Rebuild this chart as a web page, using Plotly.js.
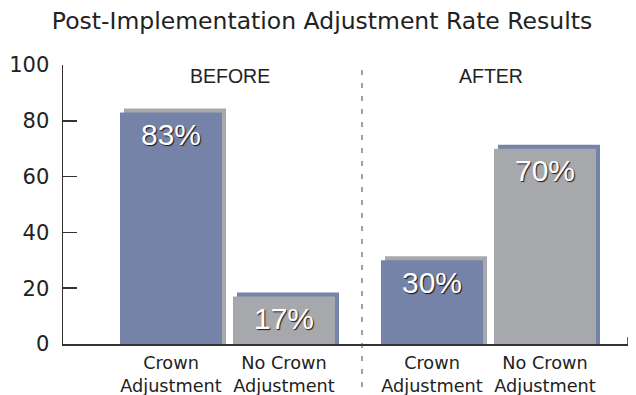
<!DOCTYPE html>
<html>
<head>
<meta charset="utf-8">
<script src="https://cdn.plot.ly/plotly-3.0.1.min.js"></script>
<style>
  html, body { margin: 0; padding: 0; background: #fff; }
  #chart { width: 636px; height: 395px; }
</style>
</head>
<body>
<div id="chart"></div>
<script>
// ---- data ----
const categories = ['Crown<br>Adjustment', 'No Crown<br>Adjustment', 'Crown<br>Adjustment', 'No Crown<br>Adjustment'];
const groupNames = ['BEFORE', 'AFTER'];
const groupOf = [0, 0, 1, 1];
const values = [83, 17, 30, 70];
const yTickVals = [0, 20, 40, 60, 80, 100];

// ---- styling / layout constants ----
const BLUE = '#7683a9';
const GRAY = '#a7a8ac';
const frontColors = [BLUE, GRAY, BLUE, GRAY];
const shadowColors = [GRAY, BLUE, GRAY, BLUE];
const PLOT_H = 279;                 // px height of plot area
const GROUP_START = [108, 369];     // x units (1 unit = 1 px)
const BAR_STEP = 113;
const BAR_W = 102;
const SH_DX = 4;
const SH_DY = 4 * 100 / PLOT_H;     // 4px in y units
const DIVIDER_X = 299;

const xs = categories.map((c, i) => GROUP_START[groupOf[i]] + BAR_STEP * (i % 2));

const shadow = {
  type: 'bar',
  x: xs.map(x => x + SH_DX),
  y: values.map(v => v + SH_DY),
  width: BAR_W,
  marker: { color: shadowColors, line: { width: 0 } },
  hoverinfo: 'skip',
  showlegend: false
};
const front = {
  type: 'bar',
  x: xs,
  y: values,
  width: BAR_W,
  marker: { color: frontColors, line: { width: 0 } },
  hoverinfo: 'skip',
  showlegend: false
};

const annotations = [];
values.forEach((v, i) => {
  annotations.push({
    x: xs[i], y: v, xref: 'x', yref: 'y',
    text: v + '%', showarrow: false,
    yanchor: 'middle', yshift: -22,
    font: { family: 'Liberation Sans, Arial, sans-serif', size: 30, color: '#ffffff',
            shadow: '1px 1px 1px rgba(0,0,0,0.85)' }
  });
});
groupNames.forEach((g, gi) => {
  const idx = groupOf.map((gg, i) => gg === gi ? i : -1).filter(i => i >= 0);
  const cx = (xs[idx[0]] + xs[idx[idx.length - 1]]) / 2 + SH_DX / 2;
  annotations.push({
    x: cx, y: (344 - 76) / PLOT_H, xref: 'x', yref: 'paper',
    text: g, showarrow: false, yanchor: 'middle',
    font: { family: 'Liberation Sans, Arial, sans-serif', size: 19.5, color: '#222' }
  });
});

const layout = {
  width: 636, height: 395,
  margin: { l: 63, r: 8, t: 65, b: 51, pad: 0 },
  paper_bgcolor: '#fff', plot_bgcolor: '#fff',
  barmode: 'overlay',
  showlegend: false,
  title: {
    text: 'Post-Implementation Adjustment Rate Results',
    x: 322 / 636, xref: 'container', xanchor: 'center',
    y: 1 - 21 / 395, yref: 'container', yanchor: 'middle',
    font: { family: 'DejaVu Sans, sans-serif', size: 23.5, color: '#222' }
  },
  xaxis: {
    range: [0, 565], fixedrange: true,
    showgrid: false, zeroline: false,
    showline: true, linecolor: '#333', linewidth: 1.5,
    tickvals: xs, ticktext: categories, ticks: '',
    ticklabelstandoff: 2,
    tickfont: { family: 'DejaVu Sans, sans-serif', size: 17.7, color: '#222' }
  },
  yaxis: {
    range: [0, 100], fixedrange: true,
    showgrid: false, zeroline: false,
    showline: true, linecolor: '#333', linewidth: 1.5,
    tickvals: yTickVals, ticks: 'inside', ticklen: 14, tickwidth: 1.5, tickcolor: '#333',
    ticklabelstandoff: 8,
    tickfont: { family: 'DejaVu Sans, sans-serif', size: 21, color: '#222' }
  },
  shapes: [
    { type: 'line', xref: 'x', yref: 'paper', x0: DIVIDER_X, x1: DIVIDER_X,
      y0: (344 - 70) / PLOT_H, y1: (344 - 395) / PLOT_H,
      line: { color: '#444', width: 1, dash: '5px,8px' } },
    { type: 'line', xref: 'x', yref: 'paper', x0: 565, x1: 565, y0: 0, y1: 7 / PLOT_H,
      line: { color: '#333', width: 1.5 } }
  ],
  annotations: annotations
};

Plotly.newPlot('chart', [shadow, front], layout, { staticPlot: true, displayModeBar: false });
</script>
</body>
</html>
